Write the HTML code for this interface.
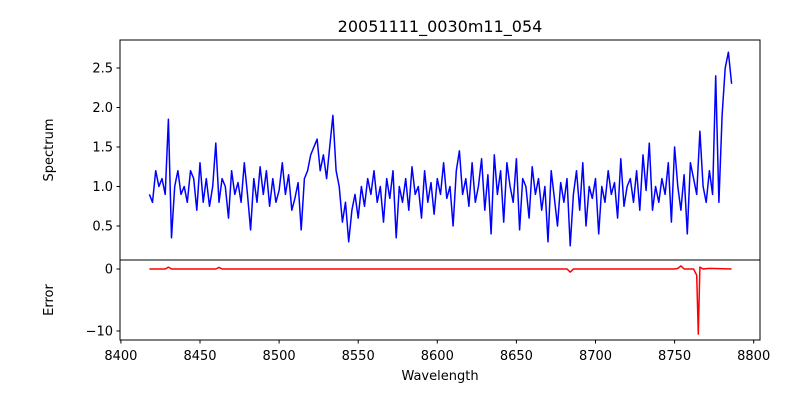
<!DOCTYPE html>
<html><head><meta charset="utf-8"><style>
body{margin:0;background:#fff;font-family:"Liberation Sans","DejaVu Sans",sans-serif}
svg text{font-family:"DejaVu Sans","Liberation Sans",sans-serif;fill:#000}
</style></head><body>
<svg id="c" width="800" height="400" xmlns="http://www.w3.org/2000/svg">
<rect width="800" height="400" fill="#fff"/>
<text x="440" y="32" font-size="16" text-anchor="middle">20051111_0030m11_054</text>
<g id="topAx"></g>
<g id="botAx"></g>
<text x="440" y="380" font-size="13" text-anchor="middle">Wavelength</text>
<text transform="translate(53,150) rotate(-90)" font-size="13" text-anchor="middle">Spectrum</text>
<text transform="translate(53,300) rotate(-90)" font-size="13" text-anchor="middle">Error</text>
</svg>
<script>
const specStart = 8418, specStep = 2;
const specVals = [
0.9,0.8,1.2,1.0,1.1,0.9,1.85,0.35,1.0,1.2,
0.9,1.0,0.8,1.2,1.1,0.7,1.3,0.8,1.1,0.75,
1.0,1.55,0.8,1.1,1.0,0.6,1.2,0.9,1.05,0.8,
1.3,0.9,0.45,1.1,0.8,1.25,0.9,1.2,0.75,1.1,
0.8,0.95,1.3,0.9,1.15,0.7,0.85,1.05,0.45,1.1,
1.2,1.4,1.5,1.6,1.2,1.4,1.1,1.5,1.9,1.2,
1.0,0.55,0.8,0.3,0.7,0.9,0.6,1.0,0.75,1.1,
0.9,1.2,0.8,1.0,0.55,1.1,0.85,1.2,0.35,1.0,
0.8,1.1,0.7,1.25,0.9,1.0,0.6,1.2,0.8,1.05,
0.65,1.1,0.9,1.3,0.85,1.0,0.5,1.2,1.45,0.9,
1.1,0.75,1.3,0.8,1.0,1.35,0.7,1.15,0.4,1.4,
0.9,1.2,0.55,1.3,1.0,0.8,1.35,0.45,1.1,1.0,
0.6,1.25,0.9,1.1,0.7,1.0,0.3,1.2,0.85,0.5,
1.05,0.8,1.1,0.25,0.9,1.2,0.7,1.3,0.5,1.0,
0.85,1.1,0.4,1.0,0.8,1.2,0.9,1.05,0.6,1.35,
0.75,1.0,1.1,0.8,1.2,0.7,1.4,0.95,1.55,0.7,
1.0,0.8,1.1,0.9,1.3,0.55,1.5,1.0,0.7,1.15,
0.4,1.3,1.1,0.9,1.7,1.0,0.8,1.2,0.9,2.4,
0.8,1.9,2.5,2.7,2.3];
const errWaves = [8418,8428,8430,8432,8460,8462,8464,8500,8550,8600,8650,8682,8684,8686,8720,8750,8752,8754,8756,8762,8764,8765,8766,8768,8772,8786];
const errVals  = [0,0,0.3,0,0,0.25,0,0,0,0,0,0,-0.5,0,0,0,0.1,0.5,0,0,-1,-10.5,0.3,0,0.1,0];
const xTicks = [8400,8450,8500,8550,8600,8650,8700,8750,8800];
const topTicks = [0.5,1.0,1.5,2.0,2.5];
const botTicks = [0,-10];

const NS="http://www.w3.org/2000/svg";
const L=120,R=760;
const xs=w=>120.9+(w-8400)*1.582;
const yTop=v=>265.5-v*79;
const yBot=v=>269-v*6.2;
function mk(t,a,p){const e=document.createElementNS(NS,t);for(const k in a)e.setAttribute(k,a[k]);p.appendChild(e);return e;}
const topAx=document.getElementById('topAx'), botAx=document.getElementById('botAx');

let d=specVals.map((v,i)=>(i?'L':'M')+xs(specStart+i*specStep).toFixed(1)+','+yTop(v).toFixed(1)).join('');
const sl=mk('path',{d:d,fill:'none',stroke:'#0000ff','stroke-width':1.5,'stroke-linejoin':'round'},topAx);


d=errWaves.map((w,i)=>(i?'L':'M')+xs(w).toFixed(1)+','+yBot(errVals[i]).toFixed(1)).join('');
const el=mk('path',{d:d,fill:'none',stroke:'#ff0000','stroke-width':1.5,'stroke-linejoin':'round'},botAx);



mk('rect',{x:L,y:40,width:R-L,height:220,fill:'none',stroke:'#000','stroke-width':1},topAx);
mk('rect',{x:L,y:260,width:R-L,height:80,fill:'none',stroke:'#000','stroke-width':1},botAx);

topTicks.forEach(v=>{const y=yTop(v);mk('line',{x1:L-3.5,x2:L,y1:y,y2:y,stroke:'#000'},topAx);
 const t=mk('text',{x:L-7,y:y+4.5,'font-size':13,'text-anchor':'end'},topAx);t.textContent=v.toFixed(1);
 
 });
botTicks.forEach(v=>{const y=yBot(v);mk('line',{x1:L-3.5,x2:L,y1:y,y2:y,stroke:'#000'},botAx);
 const t=mk('text',{x:L-7,y:y+4.5,'font-size':13,'text-anchor':'end'},botAx);t.textContent=v===0?'0':'\u2212'+Math.abs(v);
 
 });
xTicks.forEach(w=>{const x=xs(w);mk('line',{x1:x,x2:x,y1:340,y2:343.5,stroke:'#000'},botAx);
 const t=mk('text',{x:x,y:360,'font-size':13,'text-anchor':'middle'},botAx);t.textContent=w;
 
 });
</script>
</body></html>
